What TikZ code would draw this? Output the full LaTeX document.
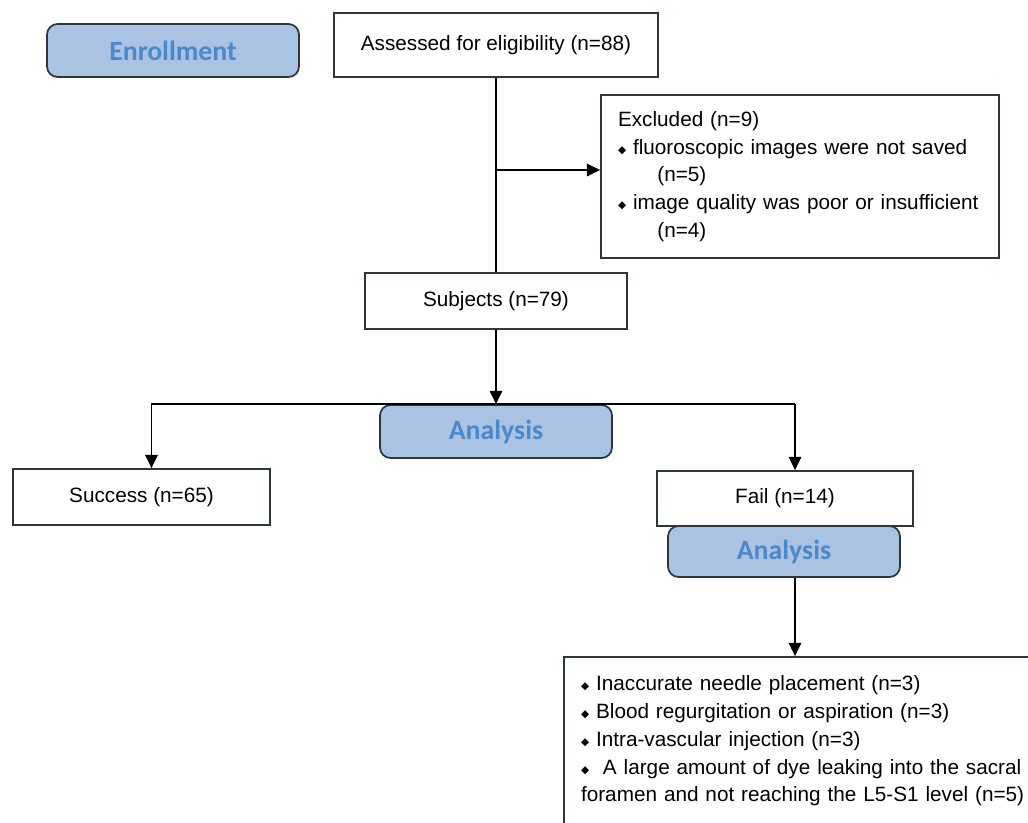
\documentclass[tikz,border=0pt]{standalone}
\usepackage{fontspec}
\setmainfont{Liberation Sans}
\newfontfamily\headfont{Carlito}
\newfontfamily\symfont{DejaVu Sans}
\usetikzlibrary{arrows.meta}
\usetikzlibrary{positioning}

\definecolor{headfill}{HTML}{ABC3E3}
\definecolor{headtext}{HTML}{4A89CA}
\definecolor{edgecol}{HTML}{2B3640}

\newcommand{\bul}{{\symfont\fontsize{6}{6}\selectfont\raisebox{0.15ex}{◆}}\ }

\tikzset{
  box/.style={draw=edgecol, line width=1pt, fill=white, inner sep=0pt,
    font=\fontsize{11.8}{13}\selectfont},
  listbox/.style={box, align=left, inner xsep=0.34cm,
    font=\fontsize{11.8}{15.8}\selectfont},
  headbox/.style={draw=edgecol, line width=1pt, fill=headfill, rounded corners=6pt,
    text=headtext, font=\headfont\bfseries\fontsize{15.8}{18}\selectfont},
  arr/.style={-{Triangle[length=7.5pt,width=7pt]}, line width=1pt, draw=black},
  link/.style={line width=1pt, draw=black}
}

\begin{document}
\begin{tikzpicture}[x=0.02cm,y=-0.02cm]
\useasboundingbox (0,0) rectangle (1028,822);
\clip (0,0) rectangle (1028,822);
\fill[white] (0,0) rectangle (1028,822);

% boxes
\node[headbox, minimum width=5.04cm, minimum height=1.06cm] (enroll) at (173,50.5) {Enrollment};
\node[box, minimum width=6.48cm, minimum height=1.28cm] (assess) at (496,45) {Assessed for eligibility (n=88)};
\node[listbox, text width=7.28cm, minimum height=3.26cm] (excl) at (800,176.5)
  {Excluded (n=9)\\
   \bul fluoroscopic images were not saved\\
   \hspace*{1.9em}(n=5)\\
   \bul image quality was poor or insufficient\\
   \hspace*{1.9em}(n=4)};
\node[box, minimum width=5.24cm, minimum height=1.12cm] (subj) at (496,301) {Subjects (n=79)};
\node[headbox, minimum width=4.64cm, minimum height=1.06cm] (anal) at (496,431.5) {Analysis};
\node[box, minimum width=5.14cm, minimum height=1.12cm] (succ) at (141.5,497) {Success (n=65)};
\node[box, minimum width=5.12cm, minimum height=1.1cm] (fail) at (785,498.5) {Fail (n=14)};
\node[headbox, minimum width=4.64cm, minimum height=1.02cm] (anal2) at (784,551.5) {Analysis};
\node[listbox, text width=9.5cm, minimum height=3.36cm] (detail) at (818.5,741)
  {\bul Inaccurate needle placement (n=3)\\
   \bul Blood regurgitation or aspiration (n=3)\\
   \bul Intra-vascular injection (n=3)\\
   \bul\ A large amount of dye leaking into the sacral\\
   foramen and not reaching the L5-S1 level (n=5)};

% connectors
\draw[link] (assess.south) -- (subj.north);
\draw[arr] (assess.south |- excl.west) ++(0,-6.5) -- ([yshift=0.13cm]excl.west);
\draw[arr] (subj.south) -- (anal.north);
\draw[link] ([xshift=0.2cm]succ.north |- anal.north) -- ([xshift=0.2cm]fail.north |- anal.north);
\draw[arr] ([xshift=0.2cm]succ.north |- anal.north) -- ([xshift=0.2cm]succ.north);
\draw[arr] ([xshift=0.2cm]fail.north |- anal.north) -- ([xshift=0.2cm]fail.north);
\draw[arr] ([xshift=0.22cm]anal2.south) -- ([xshift=0.22cm]anal2.south |- detail.north);
\end{tikzpicture}
\end{document}
